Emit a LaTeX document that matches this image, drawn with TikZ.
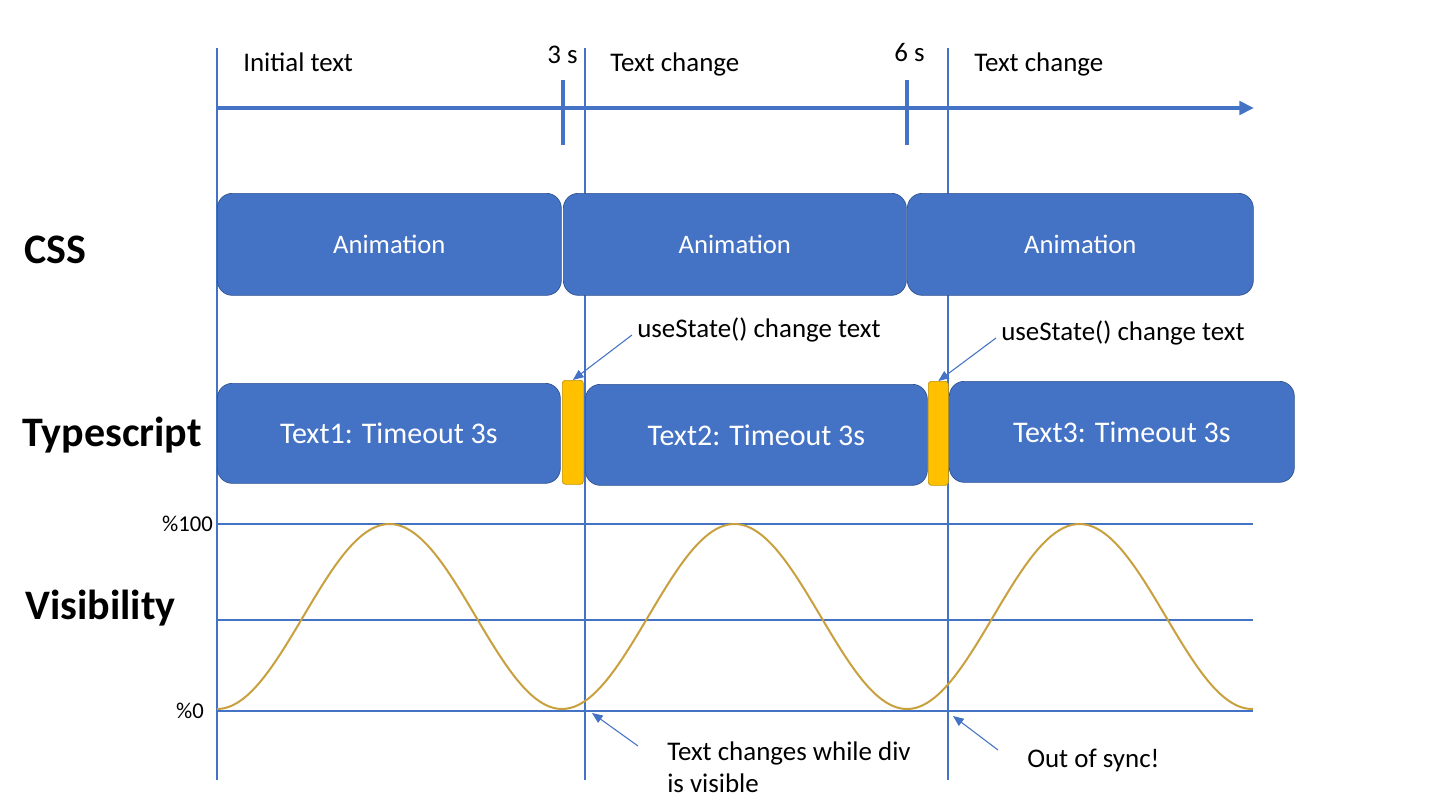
\documentclass[tikz,border=0pt]{standalone}
\usepackage{fontspec}
\setmainfont{Carlito}
\usetikzlibrary{arrows.meta}
\newdimen\px \px=0.75pt
\definecolor{oblue}{HTML}{4472C4}
\definecolor{oblueD}{HTML}{2F528F}
\definecolor{oorange}{HTML}{FFC000}
\definecolor{oorangeD}{HTML}{BF9000}
\definecolor{wave}{HTML}{C9A03E}
\begin{document}
\begin{tikzpicture}[x=0.75pt,y=-0.75pt,
  bluebox/.style={rectangle, rounded corners=15\px, fill=oblue, draw=oblueD, line width=0.5pt,
    text=white, inner sep=0pt, anchor=north west},
  orangebar/.style={rectangle, rounded corners=3\px, fill=oorange, draw=oorangeD, line width=0.5pt,
    inner sep=0pt, anchor=north west},
  guide/.style={oblue, line width=0.8pt},
  axisline/.style={oblue, line width=3pt},
  note/.style={font=\fontsize{20.2}{24}\selectfont, inner sep=0pt},
  rowlabel/.style={font=\fontsize{31.5}{36}\selectfont\bfseries, inner sep=0pt, anchor=base west},
  pct/.style={font=\fontsize{17}{20}\selectfont, inner sep=0pt, anchor=east},
  callout/.style={oblue, line width=0.8pt, -{Triangle[length=8pt,width=6.5pt]}},
]
\useasboundingbox (0,0) rectangle (1440,810);

% vertical guide lines
\coordinate (v1t) at (217,48); \coordinate (v1b) at (217,780);
\coordinate (v2t) at (585,48); \coordinate (v2b) at (585,780);
\coordinate (v3t) at (948,48); \coordinate (v3b) at (948,780);
\draw[guide] (v1t) -- (v1b);
\draw[guide] (v2t) -- (v2b);
\draw[guide] (v3t) -- (v3b);

% timeline
\coordinate (ax0) at (217,108); \coordinate (ax1) at (1254,108);
\draw[axisline, -{Triangle[length=11pt,width=10pt]}] (ax0) -- (ax1);
\coordinate (t1a) at (563,80); \coordinate (t1b) at (563,145);
\coordinate (t2a) at (907,80); \coordinate (t2b) at (907,145);
\draw[axisline, line width=2.4pt] (t1a) -- (t1b);
\draw[axisline, line width=2.4pt] (t2a) -- (t2b);

\node[note, anchor=base west] (lInit) at (243,71) {Initial text};
\node[note, anchor=base east] (l3s) at (578,63) {3 s};
\node[note, anchor=base west] (lTc1) at (610,71) {Text change};
\node[note, anchor=base east] (l6s) at (925,61) {6 s};
\node[note, anchor=base west] (lTc2) at (974,71) {Text change};

% row labels
\node[rowlabel] (rCSS) at (24,263) {CSS};
\node[rowlabel] (rTS) at (22,446) {Typescript};
\node[rowlabel] (rVis) at (25,619) {Visibility};

% CSS boxes
\node[bluebox, minimum width=344\px, minimum height=102\px, font=\fontsize{20}{24}\selectfont] (css1) at (217,193) {Animation};
\node[bluebox, minimum width=343\px, minimum height=102\px, font=\fontsize{20}{24}\selectfont] (css2) at (563,193) {Animation};
\node[bluebox, minimum width=346\px, minimum height=102\px, font=\fontsize{20}{24}\selectfont] (css3) at (907,193) {Animation};

% Typescript boxes
\node[bluebox, minimum width=343\px, minimum height=100\px, font=\fontsize{22.5}{26}\selectfont] (ts1) at (217,383) {Text1: Timeout 3s};
\node[orangebar, minimum width=21\px, minimum height=104\px] (bar1) at (562,380) {};
\node[bluebox, minimum width=342\px, minimum height=101\px, font=\fontsize{22.5}{26}\selectfont] (ts2) at (585,384) {Text2: Timeout 3s};
\node[orangebar, minimum width=20\px, minimum height=104\px] (bar2) at (928,381) {};
\node[bluebox, minimum width=345\px, minimum height=101\px, font=\fontsize{22.5}{26}\selectfont] (ts3) at (949,381) {Text3: Timeout 3s};

% useState callouts
\node[note, anchor=base west] (us1) at (637,337) {useState() change text};
\node[note, anchor=base west] (us2) at (1001,340) {useState() change text};
\coordinate (us1s) at (632,335);
\coordinate (us2s) at (996,338);
\draw[callout] (us1s) -- (bar1.north);
\draw[callout] (us2s) -- (bar2.north);

% visibility grid
\coordinate (g100a) at (217,524); \coordinate (g100b) at (1253,524);
\coordinate (g50a) at (217,620); \coordinate (g50b) at (1253,620);
\coordinate (g0a) at (217,711); \coordinate (g0b) at (1253,711);
\draw[guide] (g100a) -- (g100b);
\draw[guide] (g50a) -- (g50b);
\draw[guide] (g0a) -- (g0b);
\node[pct] (p100) at (213,524) {\%100};
\node[pct] (p0) at (204,711) {\%0};

% wave
\draw[wave, line width=1.5pt] plot[domain=0:1036, samples=300, smooth]
  ({217+\x}, {616.5+92.5*cos(1.043478*\x)});

% bottom callouts
\node[note, anchor=base west] (nb1) at (667,760) {Text changes while div};
\node[note, anchor=base west] (nb1b) at (667,792) {is visible};
\node[note, anchor=base west] (nb2) at (1027,767) {Out of sync!};
\coordinate (b1s) at (638,746); \coordinate (b1e) at (592,713);
\coordinate (b2s) at (998,750); \coordinate (b2e) at (953,716);
\draw[callout] (b1s) -- (b1e);
\draw[callout] (b2s) -- (b2e);
\end{tikzpicture}
\end{document}
